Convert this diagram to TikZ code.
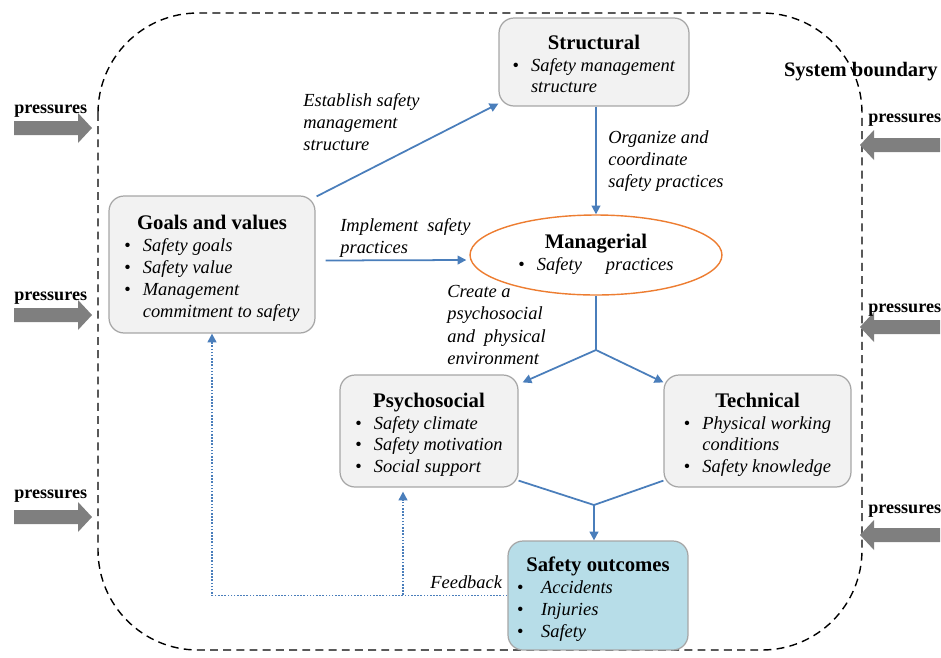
\documentclass[tikz,border=0pt]{standalone}
\usepackage{fontspec}
\setmainfont{Liberation Serif}
\usetikzlibrary{arrows.meta,calc,shapes.geometric}

\definecolor{boxfill}{HTML}{F2F2F2}
\definecolor{boxline}{HTML}{A6A6A6}
\definecolor{flowblue}{HTML}{4A7EBB}
\definecolor{mgrorange}{HTML}{ED7D31}
\definecolor{outfill}{HTML}{B7DDE8}
\definecolor{pressgray}{HTML}{7F7F7F}

% bullet item and its continuation line
\newcommand\itemline[1]{\makebox[1em][l]{\textbullet}\textit{#1}}
\newcommand\itemcont[1]{\hspace*{1em}\textit{#1}}
\newcommand\wideitem[1]{\hspace*{-0.5em}\makebox[1.3em][l]{\textbullet}\textit{#1}}
\newcommand\boxtitle[1]{\multicolumn{1}{@{}c@{}}{\rule{0pt}{14pt}\fontsize{11.8}{12.5}\selectfont\bfseries #1}}
\newcommand\ovaltitle[1]{\multicolumn{1}{@{}c@{}}{\fontsize{11.8}{12.5}\selectfont\bfseries #1}}

% thick grey "pressures" arrows, pointing into the system
\newcommand\pressright[1]{%
  \fill[pressgray] (14,#1-7) -- (78,#1-7) -- (78,#1-15) -- (92,#1)
    -- (78,#1+15) -- (78,#1+7) -- (14,#1+7) -- cycle;}
\newcommand\pressleft[1]{%
  \fill[pressgray] (940,#1-7) -- (874,#1-7) -- (874,#1-15) -- (860,#1)
    -- (874,#1+15) -- (874,#1+7) -- (940,#1+7) -- cycle;}

\tikzset{
  unitbox/.style={draw=boxline, fill=boxfill, rounded corners=0.3cm,
    line width=0.7pt, inner sep=0pt,
    font=\fontsize{10.5}{12.5}\selectfont},
  outbox/.style={unitbox, fill=outfill},
  mgrbox/.style={ellipse, draw=mgrorange, fill=white, line width=0.8pt,
    inner sep=0pt, minimum width=5.04cm, minimum height=1.6cm,
    font=\fontsize{10.5}{12.5}\selectfont},
  flow/.style={draw=flowblue, line width=1pt},
  flowarr/.style={flow, -{Triangle[length=5pt,width=5pt]}},
  feedback/.style={draw=flowblue, line width=1.1pt,
    dash pattern=on 0.9pt off 0.9pt},
  feedarr/.style={feedback, -{Triangle[length=5pt,width=5pt]}},
  linklabel/.style={inner sep=0pt, align=left, anchor=north west,
    font=\fontsize{10.5}{12.7}\selectfont\itshape},
  presslabel/.style={inner sep=0pt, font=\fontsize{10.3}{12}\selectfont\bfseries},
}

\begin{document}
\begin{tikzpicture}[x=0.02cm, y=-0.02cm]
\useasboundingbox (0,0) rectangle (941,657);

% system boundary
\draw[line width=0.8pt, dash pattern=on 4.5pt off 3pt, rounded corners=2cm]
  (98,13) rectangle (862,650);
\node[presslabel, font=\fontsize{11.7}{13}\selectfont\bfseries, anchor=east]
  (sysb) at (938,72) {System boundary};

% environmental pressures
\pressright{128} \pressright{315} \pressright{517}
\pressleft{145} \pressleft{327} \pressleft{535}
\node[presslabel, anchor=west] (pl1) at (14,111) {pressures};
\node[presslabel, anchor=west] (pl2) at (14,298) {pressures};
\node[presslabel, anchor=west] (pl3) at (14,496) {pressures};
\node[presslabel, anchor=west] (pr1) at (868,120) {pressures};
\node[presslabel, anchor=west] (pr2) at (868,310) {pressures};
\node[presslabel, anchor=west] (pr3) at (868,511) {pressures};

% subsystems
\node[unitbox, minimum width=3.8cm, minimum height=1.76cm] (struct) at (594,62)
  {\begin{tabular}{@{}l@{}}\boxtitle{Structural}\\
   \itemline{Safety management}\\ \itemcont{structure}\end{tabular}};

\node[unitbox, minimum width=4.12cm, minimum height=2.74cm] (goals) at (212,264.5)
  {\begin{tabular}{@{}l@{}}\boxtitle{Goals and values}\\
   \itemline{Safety goals}\\ \itemline{Safety value}\\
   \itemline{Management}\\ \itemcont{commitment to safety}\end{tabular}};

\node[mgrbox] (mgr) at (596,255)
  {\begin{tabular}{@{}l@{}}\ovaltitle{Managerial}\\
   \itemline{Safety\hspace{1.3em}practices}\end{tabular}};

\node[unitbox, minimum width=3.56cm, minimum height=2.24cm] (psy) at (429,431)
  {\begin{tabular}{@{}l@{}}\boxtitle{Psychosocial}\\
   \itemline{Safety climate}\\ \itemline{Safety motivation}\\
   \itemline{Social support}\end{tabular}};

\node[unitbox, minimum width=3.74cm, minimum height=2.24cm] (tech) at (757.5,431)
  {\begin{tabular}{@{}l@{}}\boxtitle{Technical}\\
   \itemline{Physical working}\\ \itemcont{conditions}\\
   \itemline{Safety knowledge}\end{tabular}};

\node[outbox, minimum width=3.6cm, minimum height=2.18cm] (outc) at (598,595.5)
  {\begin{tabular}{@{}l@{}}\boxtitle{Safety outcomes}\\
   \wideitem{Accidents}\\ \wideitem{Injuries}\\
   \wideitem{Safety}\end{tabular}};

% branch points
\coordinate (split) at (596,350);
\coordinate (join) at (594,505);
\coordinate (fbbranch) at (403,595);

% causal links
\draw[flowarr] ($(goals.north east)+(1,1)$) -- ($(struct.south west)+(0,-3)$);
\draw[flowarr] (mgr.north |- struct.south) -- (mgr.north);
\draw[flowarr] ($(goals.east)+(10,-4)$) -- ($(mgr.west)+(-3,5)$);
\draw[flow] (mgr.south) -- (split);
\draw[flowarr] (split) -- ($(psy.north east)+(4,8)$);
\draw[flowarr] (split) -- ($(tech.north west)+(0,8)$);
\draw[flow] ($(psy.south east)+(0,-7)$) -- (join);
\draw[flow] ($(tech.south west)+(0,-7)$) -- (join);
\draw[flowarr] (join) -- (join |- outc.north);

% feedback loops
\draw[feedarr] (outc.west) -| (goals.south);
\draw[feedarr] (fbbranch) -- ($(fbbranch |- psy.south)+(0,4)$);

% link labels
\node[linklabel] (lblest) at (303,93) {Establish safety\\management\\structure};
\node[linklabel] (lblorg) at (608,130) {Organize and\\coordinate\\safety practices};
\node[linklabel] (lblimp) at (340,218) {Implement\ \ safety\\practices};
\node[linklabel] (lblcre) at (447,285) {Create a\\psychosocial\\and\ \ physical\\environment};
\node[linklabel] (lblfb) at (430,575) {Feedback};
\end{tikzpicture}
\end{document}
